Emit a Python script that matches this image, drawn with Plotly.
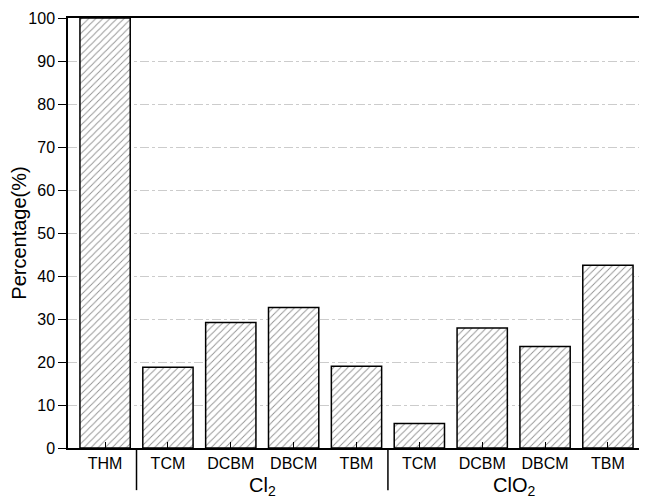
import plotly.graph_objects as go

categories = ["THM", "TCM", "DCBM", "DBCM", "TBM", "TCM", "DCBM", "DBCM", "TBM"]
values = [100, 18.8, 29.2, 32.7, 19.0, 5.7, 27.9, 23.6, 42.5]
group_labels = ["Cl<sub>2</sub>", "ClO<sub>2</sub>"]
group_centers = [2.5, 6.5]
separators = [0.5, 4.5]
y_ticks = list(range(0, 101, 10))

xpos = list(range(len(categories)))

fig = go.Figure()
fig.add_trace(go.Bar(
    x=xpos, y=values, width=0.8,
    marker=dict(color="white", line=dict(color="black", width=1.5),
                pattern=dict(shape="/", fgcolor="#222222", bgcolor="white", size=5, solidity=0.18)),
    showlegend=False,
))

font = "Liberation Sans, Arial, sans-serif"
fig.update_layout(
    width=639, height=491,
    margin=dict(l=60, r=2, t=10, b=51),
    plot_bgcolor="white", paper_bgcolor="white",
    font=dict(family=font, color="black"),
    xaxis=dict(range=[-0.59, 8.59], tickmode="array", tickvals=xpos, ticktext=categories,
               ticks="inside", ticklen=6, tickcolor="black", showline=True, linecolor="black",
               linewidth=1.5, mirror=True, showgrid=False, tickfont=dict(size=16), zeroline=False),
    yaxis=dict(range=[0, 100], tickvals=y_ticks, ticks="outside", ticklen=8, tickcolor="black",
               showline=True, linecolor="black", linewidth=1.5, showgrid=True, gridcolor="#cccccc",
               griddash="dashdot", gridwidth=1, tickfont=dict(size=16), zeroline=False,
               title=dict(text="Percentage(%)", font=dict(size=20), standoff=3)),
)

for s in separators:
    fig.add_shape(type="line", xref="x", yref="paper", x0=s, x1=s, y0=0, y1=-0.098,
                  line=dict(color="black", width=1.5))
fig.add_shape(type="line", xref="paper", yref="paper", x0=1, x1=1, y0=1, y1=-0.098,
              line=dict(color="black", width=1.5))

for lbl, c in zip(group_labels, group_centers):
    fig.add_annotation(x=c, y=-0.055, xref="x", yref="paper", text=lbl, showarrow=False,
                       yanchor="top", font=dict(size=20))

fig.write_html("out.html")
